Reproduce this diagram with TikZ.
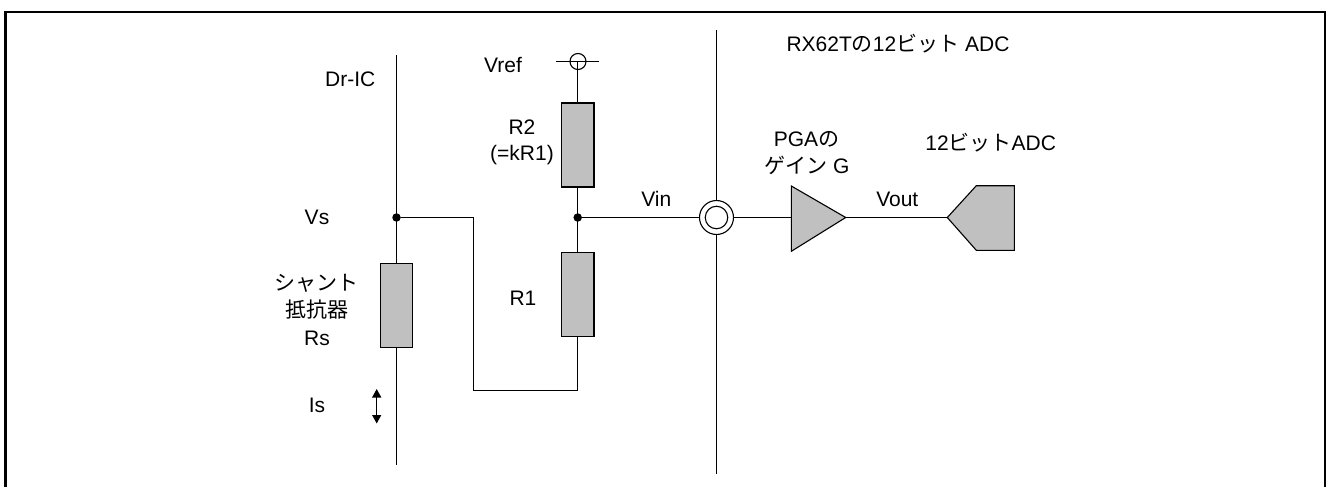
\documentclass[tikz,border=0pt]{standalone}
\usepackage{fontspec}
\setmainfont{Liberation Sans}
\newfontfamily\cjk{Noto Sans CJK JP}
\usetikzlibrary{arrows.meta}
\definecolor{partgray}{HTML}{C0C0C0}
\tikzset{
  wire/.style={line width=1.1pt,draw=black},
  part/.style={wire,fill=partgray,rectangle,inner sep=0pt,outer sep=0pt,minimum width=32.5pt},
  lbl/.style={font=\fontsize{21}{25}\selectfont,inner sep=0pt,text=black,anchor=base},
  dot/.style={circle,fill=black,inner sep=0pt,minimum size=8.5pt,outer sep=0pt},
  frame/.style={line width=2.6pt,draw=black}
}
\begin{document}
\begin{tikzpicture}[x=1pt,y=-1pt]
\useasboundingbox (0,0) rectangle (1326,487);
\begin{scope}
\clip (0,0) rectangle (1326,487);
\draw[frame] (5.7,500) -- (5.7,12) -- (1325.5,12) -- (1325.5,500);
\end{scope}
% resistors
\node[part,minimum height=84pt] (rs) at (396.5,305.3) {};
\node[part,minimum height=84pt] (r2) at (577.7,145) {};
\node[part,minimum height=84pt] (r1) at (577.7,294.5) {};
% coordinates
\coordinate (icTop) at (396.5,55);
\coordinate (icBot) at (396.5,465);
\coordinate (vrefCross) at (577.7,61);
\coordinate (crossL) at (556,61.5);
\coordinate (crossR) at (598.5,61.5);
\coordinate (bendA) at (473.5,217.5);
\coordinate (bendB) at (473.5,390.5);
\coordinate (bendC) at (577.7,390.5);
\coordinate (busTop) at (716.5,30);
\coordinate (busBot) at (716.5,474);
\node[dot] (vsDot) at (396.5,217.5) {};
\node[dot] (vinDot) at (577.7,217.5) {};
% wires
\draw[wire] (icTop) -- (rs.north);
\draw[wire] (rs.south) -- (icBot);
\draw[wire] (vsDot) -- (bendA) -- (bendB) -- (bendC) -- (r1.south);
\draw[wire] (crossL) -- (crossR);
\draw[wire] (vrefCross) -- (r2.north);
\draw[wire] (r2.south) -- (r1.north);
\node[wire,circle,minimum size=16pt,inner sep=0pt] (vrefCircle) at (578,61.5) {};
\draw[wire] (busTop) -- (busBot);
% input pin
\node[wire,circle,fill=white,minimum size=34pt,inner sep=0pt,outer sep=0pt] (pin) at (716.5,217.5) {};
\node[wire,circle,fill=white,minimum size=22.5pt,inner sep=0pt] (pinInner) at (716.5,217.5) {};
% amplifier and ADC
\coordinate (ampIn) at (791.3,217.5);
\coordinate (ampOut) at (845.7,217.5);
\coordinate (adcIn) at (947.3,217.5);
\draw[wire] (vinDot) -- (pin);
\draw[wire] (pin) -- (ampIn);
\draw[wire] (ampOut) -- (adcIn);
\draw[wire,fill=partgray,line join=miter] (791.3,186) -- (ampOut) -- (791.3,251.3) -- cycle;
\draw[wire,fill=partgray,line join=miter] (adcIn) -- (976.3,185.7) -- (1014.3,185.7) -- (1014.3,250.3) -- (976.3,250.3) -- cycle;
% current arrow
\coordinate (isTop) at (376.7,389);
\coordinate (isBot) at (376.7,423.5);
\draw[wire,{Triangle[length=8.5pt,width=9pt]}-{Triangle[length=8.5pt,width=9pt]}] (isTop) -- (isBot);
% labels
\node[lbl] (tDr) at (350.3,87) {Dr-IC};
\node[lbl] (tVref) at (503,72.7) {Vref};
\node[lbl] (tR2) at (522,135) {R2};
\node[lbl] (tKR) at (522,160.5) {(=kR1)};
\node[lbl] (tVs) at (317,224) {Vs};
\node[lbl] (tSh) at (316.5,290.5) {\cjk シャント};
\node[lbl] (tRes) at (316.5,317.5) {\cjk 抵抗器};
\node[lbl] (tRs) at (317,345) {Rs};
\node[lbl] (tIs) at (317,412) {Is};
\node[lbl] (tR1) at (523,305) {R1};
\node[lbl] (tVin) at (656.3,206) {Vin};
\node[lbl] (tRX) at (898,51.7) {RX62T{\cjk の}12{\cjk ビット} ADC};
\node[lbl] (tPGA) at (806.5,146.7) {PGA{\cjk の}};
\node[lbl] (tGain) at (807,173) {{\cjk ゲイン} G};
\node[lbl] (tAdc) at (990.7,150) {12{\cjk ビット}ADC};
\node[lbl] (tVout) at (897.3,206) {Vout};
\end{tikzpicture}
\end{document}
